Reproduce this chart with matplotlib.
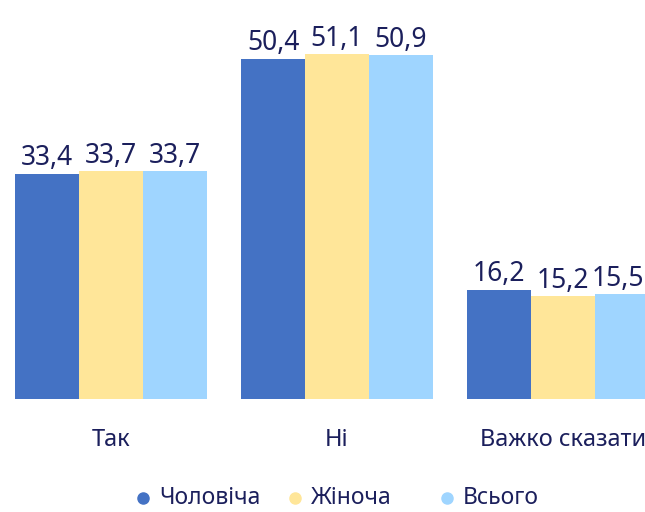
import numpy as np
import matplotlib
matplotlib.use("Agg")
import matplotlib.pyplot as plt
from matplotlib.lines import Line2D

plt.rcParams["font.family"] = ["Noto Sans", "DejaVu Sans"]

# Data
categories = ["Так", "Ні", "Важко сказати"]
series_names = ["Чоловіча", "Жіноча", "Всього"]
male = [33.4, 50.4, 16.2]
female = [33.7, 51.1, 15.2]
total = [33.7, 50.9, 15.5]

COLORS = ["#4472C4", "#FFE699", "#9FD5FF"]
TEXT = "#1b1f5c"
W, H = 645, 512

fig = plt.figure(figsize=(W / 100, H / 100), dpi=100)
ax = fig.add_axes([0, 113 / H, 1, 399 / H])

x = np.arange(len(categories))
w = 0.283
labels = []
for i, (vals, col) in enumerate(zip([male, female, total], COLORS)):
    xs = x + (i - 1) * w
    ax.bar(xs, vals, width=w, color=col, linewidth=0)
    for xi, v in zip(xs, vals):
        t = ax.annotate(f"{v:.1f}".replace(".", ","), (xi, v), xytext=(0, 1),
                        textcoords="offset points", ha="center", va="bottom",
                        fontsize=19, fontweight="light", color=TEXT,
                        annotation_clip=False)
        labels.append(t)

ax.set_xlim(-111 / 226, (W - 111) / 226)
ax.set_ylim(0, 59.1)
ax.set_xticks(x)
ax.set_xticklabels(categories, fontsize=17, color=TEXT)
ax.tick_params(axis="x", length=0, pad=21)
ax.set_yticks([])
for s in ax.spines.values():
    s.set_visible(False)

# keep value labels inside the figure at the right edge
fig.canvas.draw()
r = fig.canvas.get_renderer()
for t in labels:
    bb = t.get_window_extent(r)
    if bb.x1 > W - 1:
        dx = (bb.x1 - (W - 1)) * 72 / 100
        t.xyann = (t.xyann[0] - dx, t.xyann[1])

# legend with evenly spaced entries
for px, name, col in zip([143, 295, 447], series_names, COLORS):
    fig.add_artist(Line2D([px / W], [14 / H], marker="o", markersize=8,
                          markerfacecolor=col, markeredgecolor=col,
                          transform=fig.transFigure))
    fig.text((px + 16) / W, 14 / H, name, fontsize=16.5, color=TEXT,
             ha="left", va="center")

fig.savefig("out.png", dpi=100)
